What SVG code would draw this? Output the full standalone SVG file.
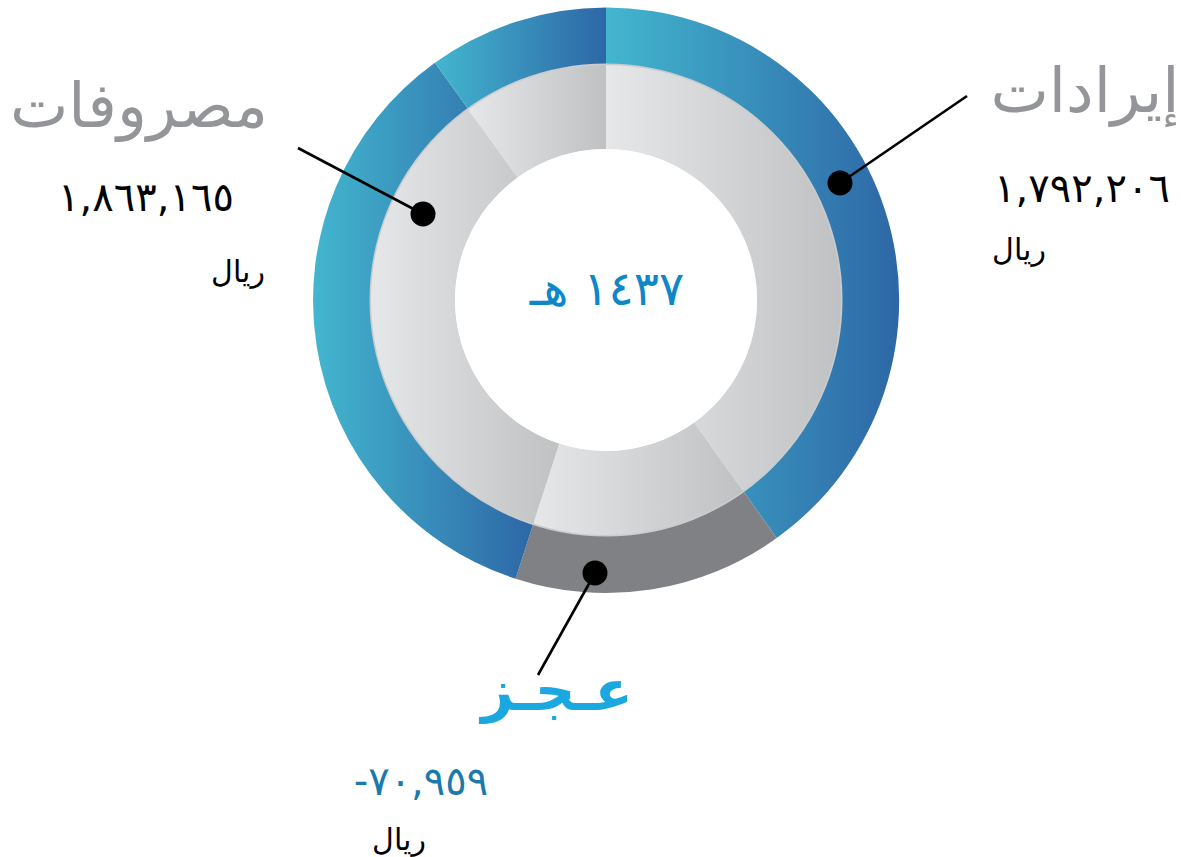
<svg xmlns="http://www.w3.org/2000/svg" width="1181" height="857" viewBox="0 0 1181 857">
  <defs>
    <linearGradient id="blue" x1="0" y1="0" x2="1" y2="0">
      <stop offset="0" stop-color="#43b6cf"/>
      <stop offset="1" stop-color="#2d67a6"/>
    </linearGradient>
    <linearGradient id="grey" x1="0" y1="0" x2="1" y2="0">
      <stop offset="0" stop-color="#e6e7e9"/>
      <stop offset="1" stop-color="#c0c1c3"/>
    </linearGradient>
    <style>
      .ar { font-family: "DejaVu Sans", sans-serif; text-anchor: middle; }
      .title { fill: #939598; font-size: 62px; }
      .num { fill: #000000; font-size: 40px; }
      .unit { fill: #000000; font-size: 30px; }
      .dot { fill: #000000; }
      .lead { stroke: #000000; stroke-width: 2.6; fill: none; }
    </style>
  </defs>

  <g id="outer-ring">
    <path id="seg-revenue" fill="url(#blue)" d="M 606 7.5 A 292.5 292.5 0 0 1 776.7 538 L 742.5 490 A 234 234 0 0 0 606 66 Z"/>
    <path id="seg-deficit" fill="#808184" d="M 776.7 538 A 292.5 292.5 0 0 1 515.6 578.7 L 533.7 522.6 A 234 234 0 0 0 742.5 490 Z"/>
    <path id="seg-expenses" fill="url(#blue)" d="M 515.6 578.7 A 292.5 292.5 0 0 1 434.9 62.8 L 469.1 110.2 A 234 234 0 0 0 533.7 522.6 Z"/>
    <path id="seg-top" fill="url(#blue)" d="M 434.9 62.8 A 292.5 292.5 0 0 1 606 7.5 L 606 66 A 234 234 0 0 0 469.1 110.2 Z"/>
  </g>

  <g id="inner-ring">
    <circle cx="606" cy="300" r="235" fill="none" stroke="#cbccce" stroke-width="3"/>
    <path fill="url(#grey)" d="M 606 65 A 235 235 0 0 1 743.1 490.9 L 694.1 422.6 A 151 151 0 0 0 606 149 Z"/>
    <path fill="url(#grey)" d="M 743.1 490.9 A 235 235 0 0 1 533.4 523.5 L 559.3 443.6 A 151 151 0 0 0 694.1 422.6 Z"/>
    <path fill="url(#grey)" d="M 533.4 523.5 A 235 235 0 0 1 468.5 109.4 L 517.7 177.5 A 151 151 0 0 0 559.3 443.6 Z"/>
    <path fill="url(#grey)" d="M 468.5 109.4 A 235 235 0 0 1 606 65 L 606 149 A 151 151 0 0 0 517.7 177.5 Z"/>
    <circle cx="606" cy="300" r="151" fill="#ffffff"/>
  </g>

  <g id="center-label">
    <text class="ar" x="607" y="305" fill="#0d87c8" font-size="47">١٤٣٧ هـ</text>
  </g>

  <g id="connectors">
    <line class="lead" x1="840" y1="183" x2="967" y2="96"/>
    <circle class="dot" cx="840" cy="183" r="12.5"/>
    <line class="lead" x1="423" y1="214" x2="298" y2="148"/>
    <circle class="dot" cx="423" cy="214" r="12.5"/>
    <line class="lead" x1="595" y1="573" x2="538" y2="675"/>
    <circle class="dot" cx="595" cy="573" r="12.5"/>
  </g>

  <g id="revenue-label">
    <text class="ar title" x="1085" y="112">إيرادات</text>
    <text class="ar num" x="1082" y="202">١,٧٩٢,٢٠٦</text>
    <text class="ar unit" x="1019" y="260">ريال</text>
  </g>

  <g id="expenses-label">
    <text class="ar title" x="139" y="127">مصروفات</text>
    <text class="ar num" x="146" y="211">١,٨٦٣,١٦٥</text>
    <text class="ar unit" x="238" y="282">ريال</text>
  </g>

  <g id="deficit-label">
    <text class="ar" x="557" y="710" fill="#1ba7e0" font-size="56" font-weight="bold">عـجـز</text>
    <text class="ar" x="421" y="795" fill="#1a7aab" font-size="40">-٧٠,٩٥٩</text>
    <text class="ar unit" x="399" y="850">ريال</text>
  </g>
</svg>
